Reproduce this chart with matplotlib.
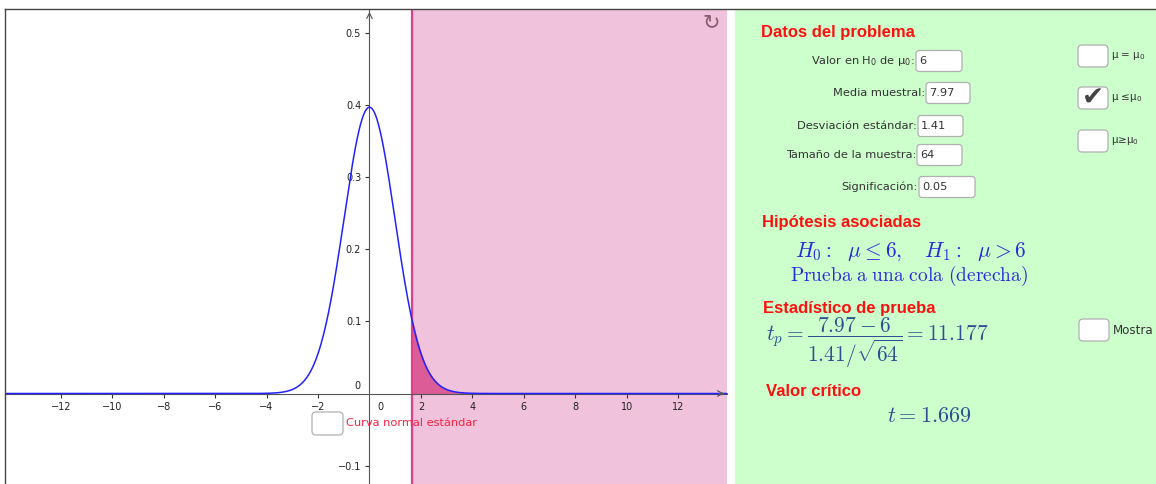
import math
import numpy as np
import matplotlib.pyplot as plt
from matplotlib.patches import FancyBboxPatch, Rectangle

plt.rcParams['font.family'] = ['Liberation Sans', 'DejaVu Sans']

# Problem data
mu0 = 6
sample_mean = 7.97
std_dev = 1.41
n = 64
alpha = 0.05
t_stat = 11.177
t_crit = 1.669

x_ticks = [-12, -10, -8, -6, -4, -2, 2, 4, 6, 8, 10, 12]
y_ticks = [-0.1, 0.1, 0.2, 0.3, 0.4, 0.5]

# Student t density, df = n - 1
df = n - 1
x = np.linspace(-14.2, 14.0, 1200)
c = math.exp(math.lgamma((df + 1) / 2) - math.lgamma(df / 2)) / math.sqrt(df * math.pi)
y = c * (1 + x ** 2 / df) ** (-(df + 1) / 2)

W, H = 1156, 484
fig = plt.figure(figsize=(W / 100, H / 100), dpi=100)
fig.patch.set_facecolor('white')

sans = 'DejaVu Sans'

# graph view
ax = fig.add_axes([5 / W, 0, (727 - 5) / W, (H - 9) / H])
xmin, xmax = -14.17, 13.9
ymin, ymax = -0.1256, 0.5337
ax.set_xlim(xmin, xmax)
ax.set_ylim(ymin, ymax)
ax.set_facecolor('white')

ax.axvspan(t_crit, xmax, color='#f0c2dc', zorder=0)
mask = x >= t_crit
ax.fill_between(x[mask], 0, y[mask], color='#dc5c98', zorder=1)
ax.axvline(t_crit, color='#e0408a', lw=1.6, zorder=2)
ax.plot(x, y, color='#2222ff', lw=1.1, zorder=3)

for s in ['top', 'right']:
    ax.spines[s].set_visible(False)
ax.spines['left'].set_position(('data', 0))
ax.spines['bottom'].set_position(('data', 0))
ax.spines['left'].set_color('#555555')
ax.spines['bottom'].set_color('#555555')
ax.spines['left'].set_zorder(2.5)
ax.spines['bottom'].set_zorder(2.5)
ax.set_xticks(x_ticks)
ax.set_xticklabels(['\u2212' + str(-v) if v < 0 else str(v) for v in x_ticks], family=sans)
ax.set_yticks(y_ticks)
ax.set_yticklabels(['\u22120.1' if v < 0 else f'{v:g}' for v in y_ticks], family=sans)
ax.tick_params(axis='both', length=3, width=0.8, color='#333333',
               labelsize=7, labelcolor='#222222', pad=3)
ax.text(0.3, -0.012, '0', fontsize=7, color='#222222', ha='left', va='top', family=sans)
ax.text(-0.35, 0.004, '0', fontsize=7, color='#222222', ha='right', va='bottom', family=sans)
ax.annotate('', xy=(xmax, 0), xytext=(xmax - 0.4, 0),
            arrowprops=dict(arrowstyle='->', color='#555555', lw=0.8))
ax.annotate('', xy=(0, ymax), xytext=(0, ymax - 0.02),
            arrowprops=dict(arrowstyle='->', color='#555555', lw=0.8))

# overlay in pixel coordinates
ov = fig.add_axes([0, 0, 1, 1])
ov.set_xlim(0, W)
ov.set_ylim(H, 0)
ov.axis('off')
ov.patch.set_alpha(0)

ov.add_patch(Rectangle((735, 9), W - 735, H - 9, color='#ccffcc', zorder=0))
ov.plot([5, W], [9, 9], color='#444444', lw=1)
ov.plot([5, 5], [9, H], color='#444444', lw=1)


def box(x0, y0, w, h, rad=3):
    ov.add_patch(FancyBboxPatch((x0, y0), w, h, boxstyle=f'round,pad=0,rounding_size={rad}',
                                fc='white', ec='#b0b0b0', lw=0.9, zorder=2))


lab = 8.2
red = '#ff1010'
ov.text(761, 33, 'Datos del problema', color=red, fontsize=12, fontweight='bold', va='center')

rows = [
    ('Valor en H$_0$ de \u03bc$_0$:', str(mu0), 916, 61, 46),
    ('Media muestral:', f'{sample_mean:g}', 926, 93, 44),
    ('Desviaci\u00f3n est\u00e1ndar:', f'{std_dev:g}', 918, 126, 45),
    ('Tama\u00f1o de la muestra:', str(n), 917, 155, 45),
    ('Significaci\u00f3n:', f'{alpha:g}', 919, 187, 56),
]
for label, val, bx, by, bw in rows:
    ov.text(bx - 1, by, label, fontsize=lab, color='#333333', ha='right', va='center', family=sans)
    box(bx, by - 10.5, bw, 21)
    ov.text(bx + 3, by, val, fontsize=lab, color='#333333', va='center', zorder=3, family=sans)

checks = [('\u03bc = \u03bc$_0$', 56, False), ('\u03bc \u2264\u03bc$_0$', 98, True),
          ('\u03bc\u2265\u03bc$_0$', 141, False)]
for label, cy, on in checks:
    box(1078, cy - 11, 30, 22, rad=4)
    if on:
        ov.text(1093, cy + 1, '\u2714', fontsize=19, color='#444444', ha='center', va='center',
                family='DejaVu Sans', zorder=3)
    ov.text(1111, cy, label, fontsize=7.5, color='#333333', va='center', family=sans)

ov.text(762, 222, 'Hip\u00f3tesis asociadas', color=red, fontsize=12, fontweight='bold', va='center')
blue = '#2b2bdd'
ov.text(795, 252, r'$H_0:\ \ \mu \leq 6,\quad H_1:\ \ \mu > 6$',
        color=blue, fontsize=15.5, va='center', math_fontfamily='cm')
ov.text(790, 276, r'$\mathrm{Prueba\ a\ una\ cola\ (derecha)}$', color=blue, fontsize=14,
        va='center', math_fontfamily='cm')

ov.text(763, 309, 'Estad\u00edstico de prueba', color=red, fontsize=12, fontweight='bold', va='center')
navy = '#2d4f93'
ov.text(766, 343, r'$t_p = \dfrac{%g - %d}{%g/\sqrt{%d}} = %.3f$' % (sample_mean, mu0, std_dev, n, t_stat),
        color=navy, fontsize=15.5, va='center', math_fontfamily='cm')
box(1079, 319, 30, 22, rad=4)
# the panel is cropped at the right edge in the screenshot
ov.text(1113, 330, 'Mostra', fontsize=8.6, color='#333333', va='center', family=sans)

ov.text(766, 391, 'Valor cr\u00edtico', color=red, fontsize=12, fontweight='bold', va='center')
ov.text(887, 416, r'$t = %.3f$' % t_crit, color=navy, fontsize=16, va='center', math_fontfamily='cm')

# left panel widgets
box(312, 412, 31, 23, rad=4)
ov.text(346, 423, 'Curva normal est\u00e1ndar', fontsize=lab, color='#ff2040', va='center', family=sans)
ov.text(711, 22, '\u21bb', fontsize=15, color='#8a5a72', ha='center', va='center', family='DejaVu Sans')

fig.savefig('out.png', dpi=100)
